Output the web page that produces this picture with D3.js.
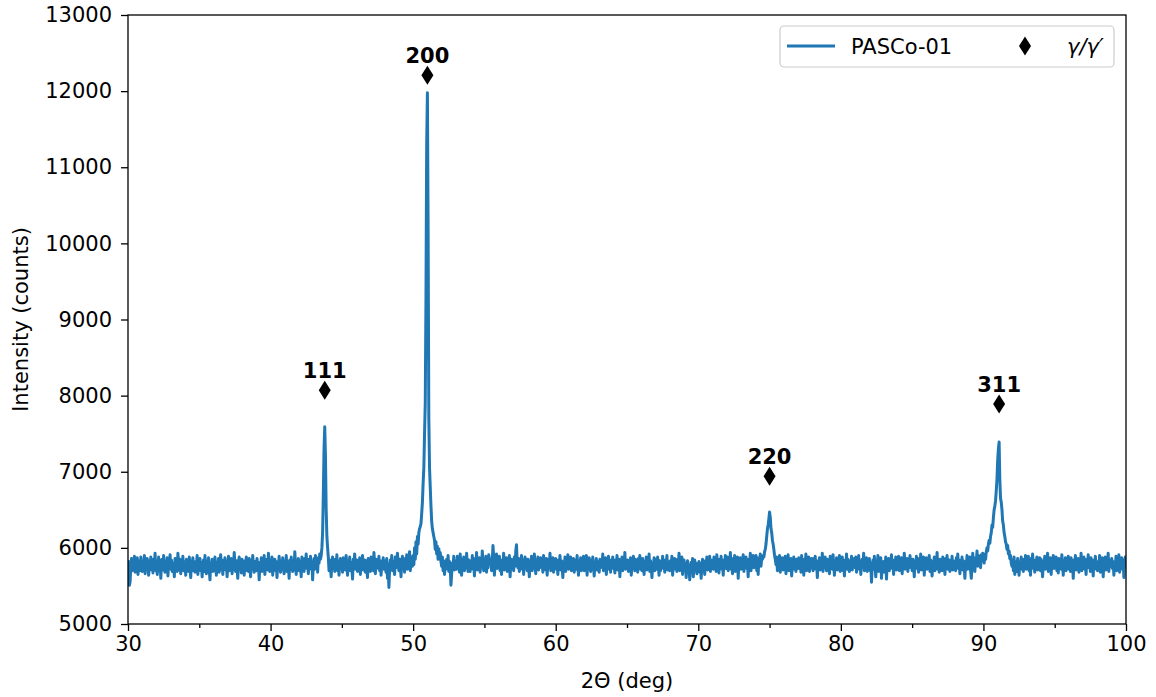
<!DOCTYPE html>
<html><head><meta charset="utf-8">
<script src="https://cdn.jsdelivr.net/npm/d3@7"></script>
<style>body{margin:0;background:#fff}text{font-family:"DejaVu Sans",sans-serif}</style>
</head><body><svg id="c" width="1156" height="697"></svg>
<script>
// 2θ scan: start angle, step (deg) and measured counts, one row per degree
const twoThetaStart = 30, twoThetaStep = 0.05;
const counts = [
5840,5720,5510,5560,5790,5860,5700,5830,5760,5890,5680,5810,5740,5870,5650,5790,5830,5700,5880,5760,
5690,5820,5750,5900,5660,5800,5720,5860,5770,5640,5830,5710,5880,5740,5800,5670,5850,5780,5930,5700,
5810,5650,5760,5880,5720,5840,5600,5790,5850,5710,5900,5760,5680,5820,5740,5870,5630,5800,5760,5910,
5720,5840,5690,5800,5770,5620,5860,5740,5820,5690,5930,5780,5710,5850,5660,5800,5750,5890,5700,5820,
5780,5640,5850,5720,5800,5690,5880,5760,5610,5830,5740,5870,5700,5800,5680,5820,5770,5900,5650,5790,
5730,5860,5700,5810,5620,5770,5840,5690,5900,5750,5660,5820,5760,5870,5710,5580,5800,5740,5850,5690,
5820,5700,5880,5760,5640,5810,5730,5860,5680,5790,5910,5720,5840,5650,5800,5760,5870,5710,5830,5620,
5760,5890,5700,5820,5740,5860,5660,5790,5720,5940,5780,5690,5830,5750,5600,5810,5880,5730,5800,5670,
5850,5720,5790,5640,5830,5760,5880,5700,5810,5690,5860,5770,5620,5840,5730,5900,5760,5680,5820,5750,
5700,5860,5740,5810,5580,5790,5730,5870,5690,5820,5760,5900,5650,5800,5740,5850,5710,5930,5780,5690,
5830,5720,5880,5640,5800,5760,5850,5700,5820,5610,5790,5740,5890,5760,5680,5830,5720,5870,5750,5660,
5810,5740,5900,5690,5820,5770,5600,5840,5720,5880,5760,5690,5830,5710,5950,5790,5650,5820,5740,5860,
5700,5830,5760,5620,5880,5740,5810,5690,5860,5770,5920,5730,5800,5660,5850,5760,5890,5720,5810,5580,
5790,5860,5720,5900,5760,5830,5680,5870,5800,5920,5850,5900,6000,6200,6700,7300,7590,7200,6500,6150,
6000,5880,5700,5840,5760,5620,5820,5880,5730,5800,5690,5850,5770,5910,5700,5820,5640,5790,5860,5740,
5800,5680,5870,5750,5820,5710,5900,5770,5640,5830,5760,5880,5700,5810,5740,5590,5850,5780,5920,5720,
5760,5840,5690,5800,5730,5870,5650,5820,5760,5900,5710,5790,5840,5680,5830,5750,5610,5860,5740,5810,
5690,5880,5760,5820,5700,5940,5780,5660,5850,5730,5810,5760,5890,5700,5830,5640,5800,5760,5870,5720,
5830,5750,5680,5860,5600,5790,5480,5720,5840,5770,5900,5700,5820,5760,5650,5880,5740,5810,5930,5790,
5700,5850,5770,5620,5820,5890,5740,5800,5680,5860,5760,5910,5720,5830,5790,5950,5700,5840,5880,5760,
5900,5780,6000,5850,6080,5920,6150,6050,6200,6250,6280,6320,6450,6600,6850,7050,7500,7900,9300,11300,
11980,10200,7700,7050,6800,6550,6350,6250,6200,6150,6100,5980,6080,5920,6020,5850,5990,5870,5940,5820,
5760,5880,5700,5830,5650,5790,5720,5850,5740,5900,5690,5820,5760,5510,5650,5800,5740,5890,5710,5830,
5800,5720,5890,5760,5830,5680,5920,5770,5640,5850,5790,5880,5700,5810,5740,5930,5770,5690,5840,5760,
5690,5830,5750,5900,5720,5810,5630,5860,5780,5940,5710,5800,5760,5870,5680,5820,5750,5960,5790,5700,
5840,5760,5890,5680,5820,5740,5910,5860,5790,5850,5700,5830,6030,5880,5640,5800,5770,5920,5730,5850,
5760,5890,5700,5820,5650,5840,5770,5930,5710,5800,5760,5870,5690,5820,5740,5900,5620,5790,5850,5730,
5820,5700,5880,5760,5960,6040,5800,5740,5860,5690,5810,5760,5900,5720,5840,5650,5790,5880,5740,5810,
5700,5850,5770,5620,5830,5760,5890,5700,5810,5740,5920,5780,5660,5840,5750,5880,5710,5800,5760,5870,
5740,5820,5680,5900,5760,5830,5710,5860,5640,5790,5850,5760,5930,5700,5820,5740,5870,5680,5810,5760,
5860,5720,5800,5650,5840,5770,5900,5710,5830,5760,5610,5820,5740,5880,5690,5800,5760,5910,5720,5840,
5760,5880,5700,5820,5740,5860,5680,5790,5840,5720,5900,5760,5640,5830,5750,5870,5700,5810,5770,5890,
5700,5830,5760,5900,5640,5810,5740,5870,5760,5690,5840,5720,5880,5770,5630,5800,5750,5860,5710,5820,
5790,5680,5850,5740,5810,5760,5920,5700,5830,5760,5870,5650,5800,5740,5890,5720,5810,5680,5840,5760,
5880,5730,5800,5670,5840,5760,5900,5710,5790,5850,5620,5820,5750,5880,5700,5830,5760,5940,5720,5800,
5760,5840,5690,5810,5750,5870,5640,5800,5730,5890,5770,5700,5850,5740,5820,5680,5860,5760,5900,5720,
5830,5700,5860,5770,5650,5820,5740,5880,5710,5800,5760,5920,5690,5830,5760,5610,5800,5750,5870,5700,
5790,5850,5720,5880,5760,5640,5830,5700,5810,5750,5890,5730,5800,5680,5840,5770,5900,5710,5820,5760,
5700,5830,5760,5890,5640,5800,5740,5860,5720,5810,5690,5850,5770,5930,5700,5820,5760,5880,5650,5790,
5840,5720,5800,5610,5760,5830,5690,5780,5580,5740,5810,5700,5860,5620,5770,5840,5700,5800,5660,5760,
5720,5820,5680,5790,5600,5760,5850,5700,5790,5650,5830,5740,5880,5710,5800,5760,5890,5690,5840,5770,
5800,5720,5880,5760,5830,5690,5910,5740,5810,5670,5850,5760,5890,5720,5800,5640,5840,5780,5900,5730,
5760,5880,5700,5830,5750,5940,5720,5800,5660,5860,5770,5900,5690,5820,5760,5880,5600,5810,5750,5870,
5720,5830,5780,5910,5690,5840,5760,5880,5730,5810,5620,5850,5770,5930,5700,5820,5790,5900,5740,5860,
5780,5900,5700,5840,5650,5870,5790,5920,5760,5880,5850,5900,5880,5950,5980,6050,6150,6250,6300,6380,
6470,6400,6250,6200,6100,6050,5980,5900,5850,5780,5880,5700,5830,5760,5900,5680,5820,5750,5870,5710,
5800,5740,5890,5660,5820,5770,5910,5700,5840,5760,5860,5630,5800,5740,5880,5720,5810,5690,5850,5770,
5730,5870,5760,5820,5680,5900,5750,5810,5640,5850,5780,5920,5700,5830,5760,5880,5690,5800,5740,5860,
5790,5700,5860,5750,5890,5720,5830,5610,5800,5760,5870,5710,5840,5760,5930,5690,5820,5740,5880,5770,
5700,5850,5760,5820,5660,5890,5740,5800,5720,5910,5780,5640,5830,5760,5870,5710,5810,5750,5900,5690,
5820,5760,5880,5700,5840,5630,5800,5770,5920,5720,5850,5760,5690,5830,5740,5890,5710,5800,5760,5860,
5740,5880,5680,5810,5760,5900,5720,5830,5650,5790,5850,5760,5930,5700,5820,5740,5870,5690,5810,5770,
5860,5700,5800,5550,5760,5840,5720,5890,5770,5620,5810,5750,5900,5690,5830,5760,5870,5600,5790,5740,
5820,5680,5760,5880,5590,5800,5740,5860,5700,5820,5760,5910,5730,5840,5650,5800,5770,5880,5710,5830,
5760,5890,5700,5810,5740,5870,5660,5820,5780,5930,5720,5800,5760,5860,5690,5840,5740,5900,5770,5810,
5700,5850,5770,5620,5830,5760,5890,5730,5800,5680,5860,5750,5920,5710,5820,5760,5880,5640,5800,5750,
5870,5720,5810,5760,5900,5690,5840,5770,5630,5820,5750,5880,5700,5830,5760,5940,5720,5800,5680,5850,
5760,5830,5700,5880,5740,5810,5650,5860,5770,5900,5720,5790,5840,5690,5820,5760,5890,5710,5830,5740,
5800,5700,5870,5760,5920,5730,5840,5660,5800,5750,5880,5710,5830,5770,5600,5820,5760,5900,5720,5850,
5760,5880,5700,5600,5750,5930,5780,5840,5690,5870,5800,5960,5760,5900,5830,5880,5740,5910,5850,5930,
5880,5800,5920,5850,5950,6000,5960,6050,6100,6060,6150,6200,6300,6270,6400,6500,6550,6620,6750,6900,
7150,7300,7390,6900,6650,6600,6500,6350,6300,6200,6150,6080,6050,5980,6030,5920,5960,5860,5900,5800,
5760,5840,5700,5880,5650,5820,5740,5690,5860,5770,5640,5810,5750,5880,5720,5800,5690,5850,5760,5900,
5720,5830,5770,5890,5700,5810,5640,5860,5750,5920,5730,5800,5680,5840,5770,5880,5710,5820,5760,5870,
5700,5850,5760,5620,5820,5740,5890,5720,5800,5760,5930,5690,5830,5750,5870,5650,5810,5770,5900,5730,
5840,5760,5880,5700,5820,5670,5860,5750,5800,5720,5910,5780,5640,5830,5760,5870,5700,5810,5750,5890,
5720,5830,5690,5870,5760,5810,5600,5840,5740,5900,5710,5800,5770,5860,5680,5820,5740,5930,5700,5810,
5760,5880,5720,5800,5650,5850,5770,5910,5740,5820,5690,5870,5760,5800,5630,5840,5720,5890,5760,5820,
5700,5810,5760,5900,5680,5830,5750,5870,5620,5800,5740,5880,5710,5820,5770,5930,5690,5840,5760,5800,
5860,5730,5820,5640,5790,5760,5890,5700,5830,5750,5910,5680,5800,5760,5870,5720,5840,5610,5800,5880,
5760
];
const seriesName = "PASCo-01";
const phaseName = "γ/γ′";
const peakLabels = ["111", "200", "220", "311"];
const peakAngles = [43.8, 51.0, 75.0, 91.1];
const markerCounts = [8070, 12210, 6940, 7890];
const xTicks = [30, 40, 50, 60, 70, 80, 90, 100];
const xMinorTicks = [35, 45, 55, 65, 75, 85, 95];
const yTicks = [5000, 6000, 7000, 8000, 9000, 10000, 11000, 12000, 13000];

const svg = d3.select("#c");
const L = 128, R = 1126, T = 15, B = 624;
const x = d3.scaleLinear().domain([30, 100]).range([L, R]);
const y = d3.scaleLinear().domain([5000, 13000]).range([B, T]);
const blue = "#1f77b4";
const fs = 21;

const data = counts.map((c, i) => [twoThetaStart + i * twoThetaStep, c]);

svg.append("defs").append("clipPath").attr("id", "clip")
  .append("rect").attr("x", L).attr("y", T).attr("width", R - L).attr("height", B - T);

svg.append("path").datum(data)
  .attr("clip-path", "url(#clip)")
  .attr("fill", "none").attr("stroke", blue).attr("stroke-width", 3)
  .attr("stroke-linejoin", "round")
  .attr("d", d3.line().x(d => x(d[0])).y(d => y(d[1])));

const diamond = (w, h) => `M0,${-h}L${w},0L0,${h}L${-w},0Z`;

const mk = svg.append("g");
peakAngles.forEach((a, i) => {
  mk.append("path").attr("d", diamond(6, 9.5))
    .attr("transform", `translate(${x(a)},${y(markerCounts[i])})`)
    .attr("fill", "#000");
  mk.append("text").attr("x", x(a)).attr("y", y(markerCounts[i]) - 12)
    .attr("text-anchor", "middle").attr("font-weight", "bold")
    .attr("font-size", fs).text(peakLabels[i]);
});

// axes
const xAxis = svg.append("g").attr("transform", `translate(0,${B})`)
  .call(d3.axisBottom(x).tickValues(xTicks).tickSize(7).tickPadding(5).tickFormat(d3.format("d")));
const xMinor = svg.append("g").attr("transform", `translate(0,${B})`)
  .call(d3.axisBottom(x).tickValues(xMinorTicks).tickSize(4).tickFormat(""));
const yAxis = svg.append("g").attr("transform", `translate(${L},0)`)
  .call(d3.axisLeft(y).tickValues(yTicks).tickSize(7).tickPadding(9).tickFormat(d3.format("d")));
[xAxis, xMinor, yAxis].forEach(g => {
  g.select(".domain").remove();
  g.selectAll("line").attr("stroke", "#000").attr("stroke-width", 1.3);
  g.selectAll("text").attr("font-size", fs).attr("fill", "#000").attr("font-family", "DejaVu Sans");
});

svg.append("rect").attr("x", L).attr("y", T).attr("width", R - L).attr("height", B - T)
  .attr("fill", "none").attr("stroke", "#000").attr("stroke-width", 1.3);

svg.append("text").attr("x", (L + R) / 2).attr("y", 688).attr("text-anchor", "middle")
  .attr("font-size", fs).text("2Θ (deg)");
svg.append("text").attr("transform", `translate(28,${(T + B) / 2}) rotate(-90)`)
  .attr("text-anchor", "middle").attr("font-size", fs).text("Intensity (counts)");

// legend
const lg = svg.append("g");
lg.append("rect").attr("x", 780).attr("y", 26).attr("width", 334).attr("height", 41).attr("rx", 4)
  .attr("fill", "#fff").attr("fill-opacity", 0.8).attr("stroke", "#cccccc").attr("stroke-width", 1.2);
lg.append("line").attr("x1", 787).attr("x2", 835).attr("y1", 46).attr("y2", 46)
  .attr("stroke", blue).attr("stroke-width", 3);
lg.append("text").attr("x", 851).attr("y", 54).attr("font-size", fs).text(seriesName);
lg.append("path").attr("d", diamond(6, 9.5)).attr("transform", "translate(1025,46)").attr("fill", "#000");
lg.append("text").attr("x", 1067).attr("y", 54).attr("font-size", fs).attr("font-style", "italic").text(phaseName);
</script></body></html>
